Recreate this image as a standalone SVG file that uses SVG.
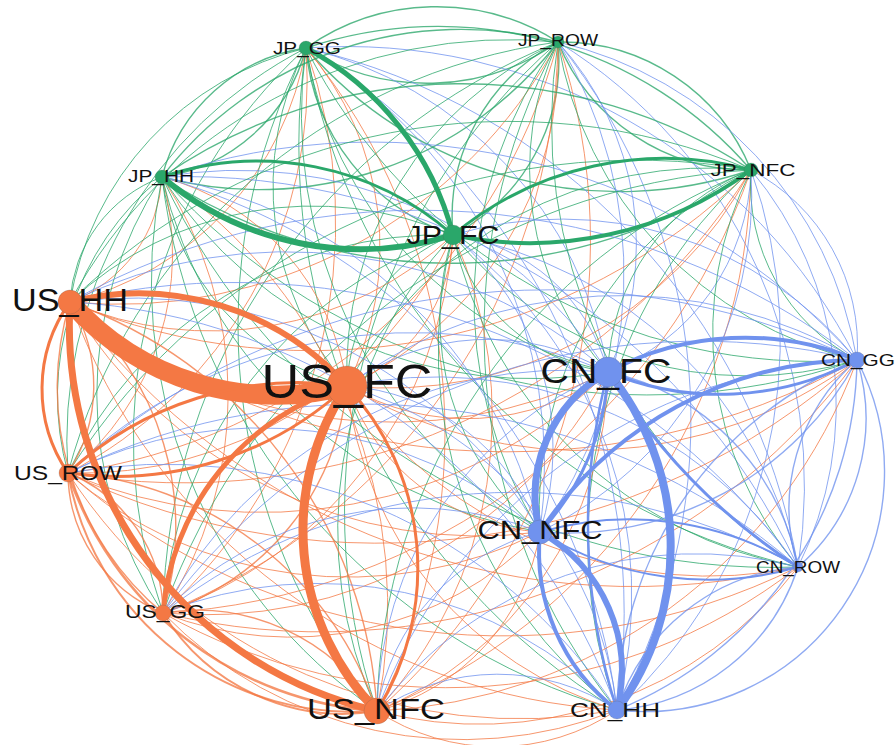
<svg xmlns="http://www.w3.org/2000/svg" width="895" height="745" viewBox="0 0 895 745">
<style>
path{fill:none;stroke-linecap:round}
.j{stroke:#2AA76A}.u{stroke:#F47844}.c{stroke:#7092EE}
#thin path{stroke-width:1;opacity:.78}
#thin path.m{stroke-width:1.4}
.nj{fill:#2AA76A}.nu{fill:#F47844}.nc{fill:#7092EE}
circle{stroke:#555;stroke-opacity:.35;stroke-width:.6}
text{font-family:"Liberation Sans",Arial,sans-serif;fill:#111;text-anchor:middle}
</style>
<rect width="895" height="745" fill="#fff"/>
<g id="connectors">
<g id="thin">
<path class="j m" d="M306 48A227 227 0 0 0 558 42"/>
<path class="j m" d="M558 42A227 227 0 0 0 306 48"/>
<path class="j m" d="M306 48A175 175 0 0 0 162 177"/>
<path class="j m" d="M162 177A175 175 0 0 0 306 48"/>
<path class="j m" d="M306 48A413 413 0 0 0 751 170"/>
<path class="j m" d="M751 170A413 413 0 0 0 306 48"/>
<path class="j m" d="M453 235A217 217 0 0 1 306 48"/>
<path class="j" d="M306 48A314 314 0 0 0 70 302"/>
<path class="u" d="M70 302A314 314 0 0 0 306 48"/>
<path class="j" d="M306 48A306 306 0 0 0 347 386"/>
<path class="u" d="M347 386A306 306 0 0 0 306 48"/>
<path class="j" d="M306 48A441 441 0 0 0 68 473"/>
<path class="u" d="M68 473A441 441 0 0 0 306 48"/>
<path class="j" d="M306 48A527 527 0 0 0 163 613"/>
<path class="u" d="M163 613A527 527 0 0 0 306 48"/>
<path class="j" d="M306 48A602 602 0 0 0 377 711"/>
<path class="u" d="M377 711A602 602 0 0 0 306 48"/>
<path class="j" d="M306 48A400 400 0 0 0 608 372"/>
<path class="c" d="M608 372A400 400 0 0 0 306 48"/>
<path class="j" d="M306 48A571 571 0 0 0 857 360"/>
<path class="c" d="M857 360A571 571 0 0 0 306 48"/>
<path class="j" d="M306 48A484 484 0 0 0 540 532"/>
<path class="c" d="M540 532A484 484 0 0 0 306 48"/>
<path class="j" d="M306 48A646 646 0 0 0 798 567"/>
<path class="c" d="M798 567A646 646 0 0 0 306 48"/>
<path class="j" d="M306 48A660 660 0 0 0 617 710"/>
<path class="c" d="M617 710A660 660 0 0 0 306 48"/>
<path class="j m" d="M558 42A377 377 0 0 0 162 177"/>
<path class="j m" d="M162 177A377 377 0 0 0 558 42"/>
<path class="j m" d="M558 42A205 205 0 0 0 751 170"/>
<path class="j m" d="M751 170A205 205 0 0 0 558 42"/>
<path class="j m" d="M558 42A197 197 0 0 0 453 235"/>
<path class="j m" d="M453 235A197 197 0 0 0 558 42"/>
<path class="j" d="M558 42A499 499 0 0 0 70 302"/>
<path class="u" d="M70 302A499 499 0 0 0 558 42"/>
<path class="j" d="M558 42A362 362 0 0 0 347 386"/>
<path class="u" d="M347 386A362 362 0 0 0 558 42"/>
<path class="j" d="M558 42A589 589 0 0 0 68 473"/>
<path class="u" d="M68 473A589 589 0 0 0 558 42"/>
<path class="j" d="M558 42A625 625 0 0 0 163 613"/>
<path class="u" d="M163 613A625 625 0 0 0 558 42"/>
<path class="j" d="M558 42A624 624 0 0 0 377 711"/>
<path class="u" d="M377 711A624 624 0 0 0 558 42"/>
<path class="j" d="M558 42A300 300 0 0 0 608 372"/>
<path class="c" d="M608 372A300 300 0 0 0 558 42"/>
<path class="j" d="M558 42A392 392 0 0 0 857 360"/>
<path class="c" d="M857 360A392 392 0 0 0 558 42"/>
<path class="j" d="M558 42A439 439 0 0 0 540 532"/>
<path class="c" d="M540 532A439 439 0 0 0 558 42"/>
<path class="j" d="M558 42A521 521 0 0 0 798 567"/>
<path class="c" d="M798 567A521 521 0 0 0 558 42"/>
<path class="j" d="M558 42A604 604 0 0 0 617 710"/>
<path class="c" d="M617 710A604 604 0 0 0 558 42"/>
<path class="j m" d="M162 177A528 528 0 0 0 751 170"/>
<path class="j m" d="M751 170A528 528 0 0 0 162 177"/>
<path class="j" d="M162 177A141 141 0 0 0 70 302"/>
<path class="u" d="M70 302A141 141 0 0 0 162 177"/>
<path class="j" d="M162 177A251 251 0 0 0 347 386"/>
<path class="u" d="M347 386A251 251 0 0 0 162 177"/>
<path class="j" d="M162 177A282 282 0 0 0 68 473"/>
<path class="u" d="M68 473A282 282 0 0 0 162 177"/>
<path class="j" d="M162 177A394 394 0 0 0 163 613"/>
<path class="u" d="M163 613A394 394 0 0 0 162 177"/>
<path class="j" d="M162 177A520 520 0 0 0 377 711"/>
<path class="u" d="M377 711A520 520 0 0 0 162 177"/>
<path class="j" d="M162 177A439 439 0 0 0 608 372"/>
<path class="c" d="M608 372A439 439 0 0 0 162 177"/>
<path class="j" d="M162 177A648 648 0 0 0 857 360"/>
<path class="c" d="M857 360A648 648 0 0 0 162 177"/>
<path class="j" d="M162 177A468 468 0 0 0 540 532"/>
<path class="c" d="M540 532A468 468 0 0 0 162 177"/>
<path class="j" d="M162 177A674 674 0 0 0 798 567"/>
<path class="c" d="M798 567A674 674 0 0 0 162 177"/>
<path class="j" d="M162 177A632 632 0 0 0 617 710"/>
<path class="c" d="M617 710A632 632 0 0 0 162 177"/>
<path class="j" d="M751 170A624 624 0 0 0 70 302"/>
<path class="u" d="M70 302A624 624 0 0 0 751 170"/>
<path class="j" d="M751 170A410 410 0 0 0 347 386"/>
<path class="u" d="M347 386A410 410 0 0 0 751 170"/>
<path class="j" d="M751 170A672 672 0 0 0 68 473"/>
<path class="u" d="M68 473A672 672 0 0 0 751 170"/>
<path class="j" d="M751 170A662 662 0 0 0 163 613"/>
<path class="u" d="M163 613A662 662 0 0 0 751 170"/>
<path class="j" d="M751 170A592 592 0 0 0 377 711"/>
<path class="u" d="M377 711A592 592 0 0 0 751 170"/>
<path class="j" d="M751 170A222 222 0 0 0 608 372"/>
<path class="c" d="M608 372A222 222 0 0 0 751 170"/>
<path class="j" d="M751 170A198 198 0 0 0 857 360"/>
<path class="c" d="M857 360A198 198 0 0 0 751 170"/>
<path class="j" d="M751 170A375 375 0 0 0 540 532"/>
<path class="c" d="M540 532A375 375 0 0 0 751 170"/>
<path class="j" d="M751 170A364 364 0 0 0 798 567"/>
<path class="c" d="M798 567A364 364 0 0 0 751 170"/>
<path class="j" d="M751 170A502 502 0 0 0 617 710"/>
<path class="c" d="M617 710A502 502 0 0 0 751 170"/>
<path class="j" d="M453 235A354 354 0 0 0 70 302"/>
<path class="u" d="M70 302A354 354 0 0 0 453 235"/>
<path class="j" d="M453 235A167 167 0 0 0 347 386"/>
<path class="u" d="M347 386A167 167 0 0 0 453 235"/>
<path class="j" d="M453 235A410 410 0 0 0 68 473"/>
<path class="u" d="M68 473A410 410 0 0 0 453 235"/>
<path class="j" d="M453 235A430 430 0 0 0 163 613"/>
<path class="u" d="M163 613A430 430 0 0 0 453 235"/>
<path class="j" d="M453 235A435 435 0 0 0 377 711"/>
<path class="u" d="M377 711A435 435 0 0 0 453 235"/>
<path class="j" d="M453 235A185 185 0 0 0 608 372"/>
<path class="c" d="M608 372A185 185 0 0 0 453 235"/>
<path class="j" d="M453 235A379 379 0 0 0 857 360"/>
<path class="c" d="M857 360A379 379 0 0 0 453 235"/>
<path class="j" d="M453 235A276 276 0 0 0 540 532"/>
<path class="c" d="M540 532A276 276 0 0 0 453 235"/>
<path class="j" d="M453 235A431 431 0 0 0 798 567"/>
<path class="c" d="M798 567A431 431 0 0 0 453 235"/>
<path class="j" d="M453 235A452 452 0 0 0 617 710"/>
<path class="c" d="M617 710A452 452 0 0 0 453 235"/>
<path class="u m" d="M70 302A160 160 0 0 1 68 473"/>
<path class="u m" d="M70 302A293 293 0 0 0 163 613"/>
<path class="u m" d="M163 613A293 293 0 0 0 70 302"/>
<path class="u m" d="M70 302A462 462 0 0 1 377 711"/>
<path class="u" d="M70 302A490 490 0 0 0 608 372"/>
<path class="c" d="M608 372A490 490 0 0 0 70 302"/>
<path class="u" d="M70 302A712 712 0 0 0 857 360"/>
<path class="c" d="M857 360A712 712 0 0 0 70 302"/>
<path class="u" d="M70 302A473 473 0 0 0 540 532"/>
<path class="c" d="M540 532A473 473 0 0 0 70 302"/>
<path class="u" d="M70 302A700 700 0 0 0 798 567"/>
<path class="c" d="M798 567A700 700 0 0 0 70 302"/>
<path class="u" d="M70 302A616 616 0 0 0 617 710"/>
<path class="c" d="M617 710A616 616 0 0 0 70 302"/>
<path class="u m" d="M347 386A264 264 0 0 1 163 613"/>
<path class="u" d="M347 386A236 236 0 0 0 608 372"/>
<path class="c" d="M608 372A236 236 0 0 0 347 386"/>
<path class="u" d="M347 386A461 461 0 0 0 857 360"/>
<path class="c" d="M857 360A461 461 0 0 0 347 386"/>
<path class="u" d="M347 386A220 220 0 0 0 540 532"/>
<path class="c" d="M540 532A220 220 0 0 0 347 386"/>
<path class="u" d="M347 386A439 439 0 0 0 798 567"/>
<path class="c" d="M798 567A439 439 0 0 0 347 386"/>
<path class="u" d="M347 386A381 381 0 0 0 617 710"/>
<path class="c" d="M617 710A381 381 0 0 0 347 386"/>
<path class="u m" d="M68 473A152 152 0 0 0 163 613"/>
<path class="u m" d="M163 613A152 152 0 0 0 68 473"/>
<path class="u m" d="M68 473A350 350 0 0 1 377 711"/>
<path class="u" style="stroke-width:2.5" d="M377 711A350 350 0 0 1 68 473"/>
<path class="u" style="stroke-width:2" d="M377 711A290 290 0 0 1 68 473"/>
<path class="u" d="M68 473A496 496 0 0 0 608 372"/>
<path class="c" d="M608 372A496 496 0 0 0 68 473"/>
<path class="u" d="M68 473A718 718 0 0 0 857 360"/>
<path class="c" d="M857 360A718 718 0 0 0 68 473"/>
<path class="u" d="M68 473A429 429 0 0 0 540 532"/>
<path class="c" d="M540 532A429 429 0 0 0 68 473"/>
<path class="u" d="M68 473A663 663 0 0 0 798 567"/>
<path class="c" d="M798 567A663 663 0 0 0 68 473"/>
<path class="u" d="M68 473A538 538 0 0 0 617 710"/>
<path class="c" d="M617 710A538 538 0 0 0 68 473"/>
<path class="u m" d="M163 613A211 211 0 0 1 377 711"/>
<path class="u" style="stroke-width:2" d="M377 711A211 211 0 0 1 163 613"/>
<path class="u" d="M163 613A456 456 0 0 0 608 372"/>
<path class="c" d="M608 372A456 456 0 0 0 163 613"/>
<path class="u" d="M163 613A665 665 0 0 0 857 360"/>
<path class="c" d="M857 360A665 665 0 0 0 163 613"/>
<path class="u" d="M163 613A348 348 0 0 0 540 532"/>
<path class="c" d="M540 532A348 348 0 0 0 163 613"/>
<path class="u" d="M163 613A573 573 0 0 0 798 567"/>
<path class="c" d="M798 567A573 573 0 0 0 163 613"/>
<path class="u" d="M163 613A417 417 0 0 0 617 710"/>
<path class="c" d="M617 710A417 417 0 0 0 163 613"/>
<path class="u" d="M377 711A371 371 0 0 0 608 372"/>
<path class="c" d="M608 372A371 371 0 0 0 377 711"/>
<path class="u" d="M377 711A536 536 0 0 0 857 360"/>
<path class="c" d="M857 360A536 536 0 0 0 377 711"/>
<path class="u" d="M377 711A221 221 0 0 0 540 532"/>
<path class="c" d="M540 532A221 221 0 0 0 377 711"/>
<path class="u" d="M377 711A401 401 0 0 0 798 567"/>
<path class="c" d="M798 567A401 401 0 0 0 377 711"/>
<path class="u" d="M377 711A216 216 0 0 0 617 710"/>
<path class="c" d="M617 710A216 216 0 0 0 377 711"/>
<path class="c m" d="M608 372A247 247 0 0 1 798 567"/>
<path class="c m" d="M857 360A330 330 0 0 1 540 532"/>
<path class="c m" d="M857 360A196 196 0 0 0 798 567"/>
<path class="c m" d="M798 567A196 196 0 0 0 857 360"/>
<path class="c m" d="M857 360A383 383 0 0 0 617 710"/>
<path class="c m" d="M617 710A383 383 0 0 0 857 360"/>
<path class="c m" d="M857 360A240 240 0 0 1 617 710"/>
<path class="c m" d="M798 567A207 207 0 0 0 617 710"/>
<path class="c m" d="M617 710A207 207 0 0 0 798 567"/>
</g>
<g id="thick">
<path class="u" stroke-width="19" d="M347 386A277 277 0 0 1 70 302"/>
<path class="u" stroke-width="6" d="M70 302A280 280 0 0 1 347 386"/>
<path class="u" stroke-width="3" d="M68 473A149 149 0 0 1 70 302"/>
<path class="u" stroke-width="7" d="M377 711A396 396 0 0 1 70 302"/>
<path class="u" stroke-width="5" d="M163 613A258 258 0 0 1 347 386"/>
<path class="u" stroke-width="9" d="M377 711A258 258 0 0 1 347 386"/>
<path class="u" stroke-width="3" d="M347 386A270 270 0 0 1 377 711"/>
<path class="u" stroke-width="3" d="M68 473A340 340 0 0 1 347 386"/>
<path class="u" stroke-width="3" d="M347 386A340 340 0 0 1 68 473"/>
<path class="c" stroke-width="8" d="M608 372A275 275 0 0 1 617 710"/>
<path class="c" stroke-width="2.5" d="M617 710A600 600 0 0 1 608 372"/>
<path class="c" stroke-width="7" d="M540 532A141 141 0 0 1 608 372"/>
<path class="c" stroke-width="3" d="M608 372A250 250 0 0 1 540 532"/>
<path class="c" stroke-width="6" d="M540 532A159 159 0 0 1 617 710"/>
<path class="c" stroke-width="4" d="M617 710A200 200 0 0 1 540 532"/>
<path class="c" stroke-width="4" d="M608 372A291 291 0 0 1 857 360"/>
<path class="c" stroke-width="3" d="M857 360A291 291 0 0 1 608 372"/>
<path class="c" stroke-width="4" d="M540 532A385 385 0 0 1 857 360"/>
<path class="c" stroke-width="3" d="M798 567A624 624 0 0 1 608 372"/>
<path class="c" stroke-width="2" d="M540 532A322 322 0 0 1 798 567"/>
<path class="c" stroke-width="2" d="M798 567A322 322 0 0 1 540 532"/>
<path class="j" stroke-width="5" d="M306 48A296 296 0 0 1 453 235"/>
<path class="j" stroke-width="6" d="M453 235A309 309 0 0 1 162 177"/>
<path class="j" stroke-width="3" d="M162 177A296 296 0 0 1 453 235"/>
<path class="j" stroke-width="4" d="M751 170A371 371 0 0 1 453 235"/>
<path class="j" stroke-width="3" d="M453 235A330 330 0 0 1 751 170"/>
</g>
</g>
<g id="JP_GG"><circle class="nj" cx="306" cy="48" r="7"/><text x="307" y="54" font-size="16" textLength="68" lengthAdjust="spacingAndGlyphs">JP_GG</text></g>
<g id="JP_ROW"><circle class="nj" cx="558" cy="42" r="6"/><text x="558" y="46" font-size="16" textLength="80" lengthAdjust="spacingAndGlyphs">JP_ROW</text></g>
<g id="JP_HH"><circle class="nj" cx="162" cy="177" r="7"/><text x="161" y="182" font-size="17" textLength="66" lengthAdjust="spacingAndGlyphs">JP_HH</text></g>
<g id="JP_NFC"><circle class="nj" cx="751" cy="170" r="7"/><text x="753" y="176" font-size="17" textLength="85" lengthAdjust="spacingAndGlyphs">JP_NFC</text></g>
<g id="JP_FC"><circle class="nj" cx="453" cy="235" r="10"/><text x="453" y="244" font-size="25" textLength="93" lengthAdjust="spacingAndGlyphs">JP_FC</text></g>
<g id="US_HH"><circle class="nu" cx="70" cy="302" r="12"/><text x="70" y="311" font-size="31" textLength="116" lengthAdjust="spacingAndGlyphs">US_HH</text></g>
<g id="US_FC"><circle class="nu" cx="347" cy="386" r="20"/><text x="347" y="398" font-size="48" textLength="171" lengthAdjust="spacingAndGlyphs">US_FC</text></g>
<g id="US_ROW"><circle class="nu" cx="68" cy="473" r="9"/><text x="68" y="480" font-size="21" textLength="108" lengthAdjust="spacingAndGlyphs">US_ROW</text></g>
<g id="US_GG"><circle class="nu" cx="163" cy="613" r="8"/><text x="165" y="618" font-size="18" textLength="80" lengthAdjust="spacingAndGlyphs">US_GG</text></g>
<g id="US_NFC"><circle class="nu" cx="377" cy="711" r="13"/><text x="376" y="719" font-size="29" textLength="138" lengthAdjust="spacingAndGlyphs">US_NFC</text></g>
<g id="CN_FC"><circle class="nc" cx="608" cy="372" r="15"/><text x="606" y="383" font-size="35" textLength="131" lengthAdjust="spacingAndGlyphs">CN_FC</text></g>
<g id="CN_GG"><circle class="nc" cx="857" cy="360" r="8"/><text x="858" y="366" font-size="16" textLength="74" lengthAdjust="spacingAndGlyphs">CN_GG</text></g>
<g id="CN_NFC"><circle class="nc" cx="540" cy="532" r="12"/><text x="540" y="539" font-size="26" textLength="125" lengthAdjust="spacingAndGlyphs">CN_NFC</text></g>
<g id="CN_ROW"><circle class="nc" cx="798" cy="567" r="5"/><text x="798" y="573" font-size="16" textLength="84" lengthAdjust="spacingAndGlyphs">CN_ROW</text></g>
<g id="CN_HH"><circle class="nc" cx="617" cy="710" r="9"/><text x="615" y="717" font-size="21" textLength="90" lengthAdjust="spacingAndGlyphs">CN_HH</text></g>
</svg>
